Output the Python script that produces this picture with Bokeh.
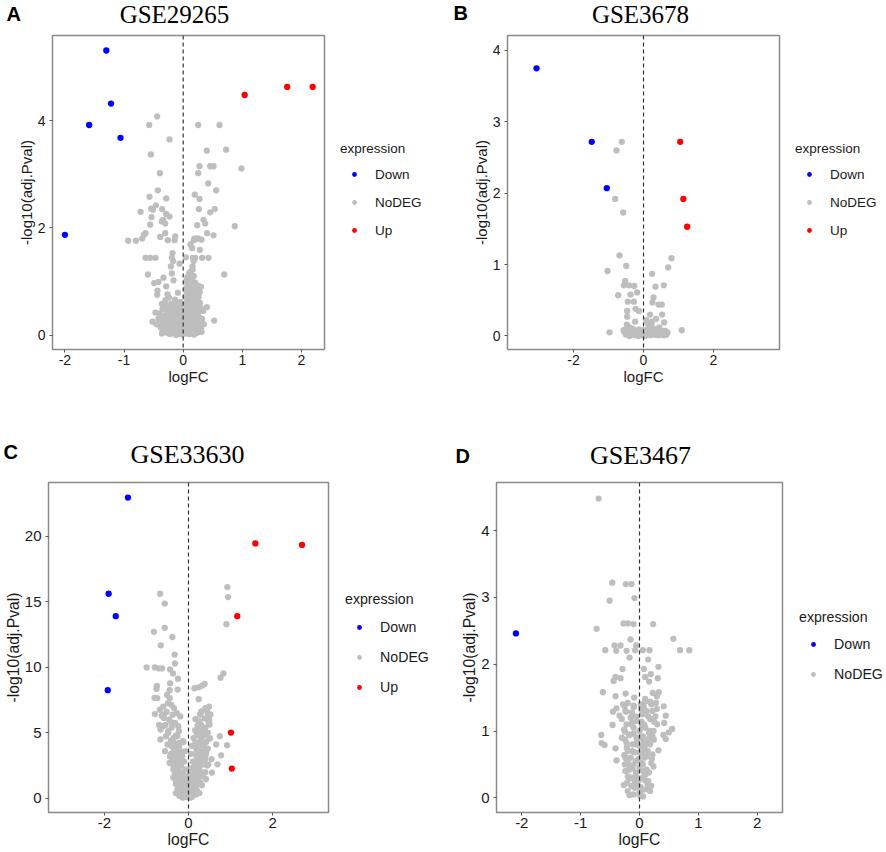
from bokeh.plotting import figure
from bokeh.layouts import row, column
from bokeh.models import Label, Legend, LegendItem, Span, FixedTicker, Range1d
from bokeh.embed import file_html
from bokeh.resources import INLINE

GRAY = "#BEBEBE"
BLUE = "#0000FF"
RED = "#FF0000"

# ---------------- Panel A : GSE29265 ----------------
A_down = [(-1.30, 5.31), (-1.22, 4.32), (-1.59, 3.92), (-1.06, 3.68), (-2.00, 1.87)]
A_up = [(1.04, 4.48), (1.76, 4.63), (2.19, 4.63)]
A_nodeg = [(-0.44, 4.08), (-0.575, 3.92), (0.254, 3.92), (0.614, 3.92), (-0.231, 3.65), (0.727, 3.46),
           (0.40, 3.44), (-0.546, 3.37), (0.276, 3.15), (0.456, 3.15), (0.513, 3.15), (0.986, 3.11),
           (-0.394, 3.02), (0.254, 3.02), (0.423, 2.83), (-0.428, 2.70), (0.558, 2.70), (0.197, 2.62),
           (-0.569, 2.58), (-0.287, 2.55), (0.276, 2.54), (-0.462, 2.42), (-0.541, 2.36), (-0.513, 2.34),
           (0.535, 2.35), (0.265, 2.35), (-0.355, 2.35), (-0.721, 2.30), (0.456, 2.29), (-0.287, 2.26),
           (-0.231, 2.21), (-0.535, 2.20), (-0.338, 2.15), (0.344, 2.15), (-0.361, 2.12), (0.372, 2.08),
           (-0.304, 2.08), (-0.558, 2.06), (0.237, 2.05), (0.873, 2.03), (0.406, 1.90), (-0.304, 1.90),
           (-0.637, 1.90), (-0.665, 1.87), (0.513, 1.86), (-0.389, 1.83), (-0.135, 1.84), (0.192, 1.80),
           (0.225, 1.80), (0.254, 1.80), (-0.693, 1.80), (0.310, 1.78), (-0.930, 1.76), (-0.80, 1.76),
           (-0.259, 1.77), (0.18, 1.77), (-0.146, 1.77), (0.124, 1.69), (0.152, 1.62), (0.282, 1.59),
           (-0.18, 1.53), (-0.637, 1.44), (-0.558, 1.44), (-0.468, 1.44), (-0.192, 1.44), (0.045, 1.45),
           (0.163, 1.44), (0.203, 1.44), (0.321, 1.44), (0.428, 1.44), (-0.169, 1.38), (0.175, 1.38),
           (-0.208, 1.28), (-0.062, 1.33), (0.158, 1.28), (0.693, 1.13), (-0.597, 1.13), (-0.192, 1.15),
           (-0.332, 1.07), (-0.163, 1.02), (-0.49, 0.97), (-0.417, 0.99), (-0.287, 0.91), (-0.434, 0.83),
           (-0.09, 0.79), (-0.265, 0.76), (-0.439, 0.75), (0.40, 0.52), (0.282, 0.60), (0.338, 0.45),
           (-0.468, 0.42), (0.524, 0.27), (-0.518, 0.25)]
A_nodeg_core = [(0.10, 1.15), (0.14, 1.12), (0.18, 1.10), (0.12, 1.05), (0.16, 1.00), (0.20, 0.98), (0.08, 0.95),
                (0.25, 0.92), (0.30, 0.90), (0.12, 0.88), (0.18, 0.85), (0.22, 0.82), (0.06, 0.80), (0.28, 0.80),
                (0.10, 0.75), (0.15, 0.72), (0.20, 0.70), (0.25, 0.68), (0.08, 0.65), (0.12, 0.60), (0.18, 0.58),
                (0.22, 0.55), (0.06, 0.52), (0.30, 0.50), (0.10, 0.48), (0.15, 0.45), (0.20, 0.42), (0.25, 0.40),
                (0.05, 0.38), (0.12, 0.35), (0.18, 0.32), (0.08, 0.30), (0.22, 0.28), (0.14, 0.25), (0.28, 0.22),
                (0.10, 0.20), (0.18, 0.18), (0.05, 0.15), (0.24, 0.14), (0.12, 0.12), (0.20, 0.10), (0.08, 0.08),
                (0.15, 0.05), (0.25, 0.05), (0.04, 0.03), (0.10, 0.02), (0.18, 0.01), (0.30, 0.12), (0.32, 0.30),
                (0.35, 0.20), (0.07, 1.08), (0.14, 0.92), (0.24, 0.60), (0.16, 0.15), (0.27, 0.30),
                (0.05, 1.00), (0.09, 1.02), (0.13, 0.98), (0.17, 0.94), (0.21, 0.90), (0.05, 0.88), (0.09, 0.84),
                (0.13, 0.80), (0.17, 0.76), (0.21, 0.74), (0.26, 0.72), (0.04, 0.70), (0.08, 0.68), (0.12, 0.66),
                (0.16, 0.64), (0.20, 0.62), (0.27, 0.60), (0.04, 0.58), (0.08, 0.56), (0.13, 0.54), (0.17, 0.52),
                (0.21, 0.50), (0.26, 0.48), (0.04, 0.46), (0.08, 0.44), (0.12, 0.40), (0.16, 0.38), (0.20, 0.36),
                (0.24, 0.34), (0.28, 0.32), (0.03, 0.32), (0.07, 0.24), (0.11, 0.28), (0.15, 0.30), (0.19, 0.25),
                (0.23, 0.22), (0.27, 0.16), (0.03, 0.20), (0.07, 0.14), (0.11, 0.16), (0.15, 0.10), (0.19, 0.08),
                (0.22, 0.04), (0.27, 0.09), (0.31, 0.06), (0.06, 0.05), (0.13, 0.03), (0.20, 0.03), (0.09, 1.10),
                (0.12, 1.18), (0.16, 1.22),
                (-0.05, 0.62), (-0.12, 0.60), (-0.20, 0.58), (-0.30, 0.60), (-0.08, 0.55), (-0.15, 0.52),
                (-0.25, 0.50), (-0.35, 0.48), (-0.05, 0.45), (-0.10, 0.42), (-0.18, 0.40), (-0.28, 0.38),
                (-0.40, 0.40), (-0.06, 0.35), (-0.14, 0.32), (-0.22, 0.30), (-0.32, 0.30), (-0.04, 0.25),
                (-0.10, 0.22), (-0.18, 0.20), (-0.26, 0.22), (-0.36, 0.20), (-0.06, 0.15), (-0.12, 0.12),
                (-0.20, 0.10), (-0.30, 0.12), (-0.38, 0.14), (-0.04, 0.08), (-0.10, 0.05), (-0.16, 0.04),
                (-0.24, 0.03), (-0.30, 0.05), (-0.02, 0.01), (-0.12, 0.00), (-0.20, 0.15), (-0.42, 0.30),
                (-0.45, 0.20),
                (-0.02, 0.58), (-0.06, 0.50), (-0.11, 0.55), (-0.16, 0.47), (-0.21, 0.52), (-0.26, 0.44),
                (-0.31, 0.52), (-0.02, 0.40), (-0.08, 0.38), (-0.13, 0.45), (-0.19, 0.35), (-0.24, 0.38),
                (-0.29, 0.30), (-0.34, 0.36), (-0.02, 0.30), (-0.08, 0.28), (-0.13, 0.25), (-0.18, 0.28),
                (-0.23, 0.24), (-0.28, 0.20), (-0.33, 0.25), (-0.02, 0.18), (-0.08, 0.18), (-0.14, 0.18),
                (-0.24, 0.12), (-0.28, 0.10), (-0.34, 0.08), (-0.06, 0.02), (-0.18, 0.07), (-0.22, 0.02),
                (-0.36, 0.03), (-0.30, 0.65), (-0.24, 0.70), (-0.14, 0.66), (-0.36, 0.58)]

# ---------------- Panel B : GSE3678 ----------------
B_down = [(-3.06, 3.75), (-1.48, 2.72), (-1.05, 2.07)]
B_up = [(1.05, 2.72), (1.14, 1.92), (1.25, 1.53)]
B_nodeg = [(-0.619, 2.72), (-0.771, 2.60), (-0.81, 1.92), (-0.581, 1.73), (-0.686, 1.13), (0.80, 1.09),
           (-0.495, 0.98), (0.705, 0.96), (-1.029, 0.91), (0.248, 0.87), (-0.524, 0.77), (-0.562, 0.71),
           (-0.41, 0.71), (-0.267, 0.70), (0.343, 0.69), (0.581, 0.71), (-0.724, 0.57), (-0.371, 0.58),
           (-0.181, 0.61), (0.286, 0.54), (-0.448, 0.48), (-0.276, 0.48), (0.257, 0.47), (0.524, 0.44),
           (0.429, 0.44), (-0.229, 0.38), (-0.467, 0.35), (-0.133, 0.35), (0.19, 0.30), (0.533, 0.30),
           (-0.467, 0.27), (0.362, 0.24), (-0.238, 0.20), (0.114, 0.18), (0.238, 0.20), (-0.476, 0.16),
           (0.59, 0.19), (1.095, 0.08), (-0.971, 0.05), (-0.571, 0.08), (0.686, 0.05)]
B_nodeg_core = [(-0.50, 0.02), (-0.45, 0.05), (-0.40, 0.00), (-0.35, 0.03), (-0.30, 0.06), (-0.25, 0.01),
                (-0.20, 0.04), (-0.15, 0.00), (-0.10, 0.02), (-0.05, 0.05), (0.05, 0.00), (0.10, 0.03),
                (0.15, 0.05), (0.20, 0.01), (0.25, 0.04), (0.30, 0.02), (0.35, 0.06), (0.40, 0.03),
                (0.45, 0.05), (0.50, 0.02), (0.55, 0.06), (0.60, 0.04), (-0.30, 0.10), (0.15, 0.12),
                (0.30, 0.10), (-0.40, 0.12), (0.08, 0.22), (0.22, 0.15), (0.45, 0.12),
                (-0.55, 0.06), (-0.48, 0.09), (-0.42, 0.07), (-0.36, 0.09), (-0.26, 0.08), (-0.18, 0.07),
                (-0.12, 0.09), (-0.07, 0.01), (0.02, 0.08), (0.08, 0.06), (0.13, 0.09), (0.18, 0.07),
                (0.24, 0.08), (0.28, 0.06), (0.33, 0.02), (0.38, 0.08), (0.42, 0.01), (0.48, 0.08),
                (0.53, 0.04), (0.58, 0.01), (0.62, 0.07), (0.66, 0.02)]

# ---------------- Panel C : GSE33630 ----------------
C_down = [(-1.44, 22.95), (-1.90, 15.61), (-1.73, 13.90), (-1.92, 8.25)]
C_up = [(1.59, 19.45), (2.70, 19.34), (1.16, 13.90), (1.01, 5.02), (1.03, 2.27)]
C_nodeg = [(-0.675, 15.61), (-0.565, 14.86), (0.925, 16.12), (0.941, 15.36), (0.902, 13.29), (-0.565, 13.01),
           (-0.824, 12.71), (-0.384, 12.31), (-0.659, 11.68), (-0.329, 10.97), (-0.322, 10.29), (-0.996, 9.99),
           (-0.80, 9.99), (-0.706, 9.91), (-0.627, 9.91), (-0.439, 9.84), (-0.369, 9.53), (0.831, 9.53),
           (0.761, 9.21), (-0.251, 9.13), (0.141, 8.40), (0.243, 8.47), (0.322, 8.60), (0.384, 8.73),
           (-0.753, 8.58), (-0.761, 8.35), (-0.439, 8.78), (-0.259, 8.30), (-0.447, 8.25), (-0.808, 7.67),
           (-0.51, 7.89), (-0.745, 7.64), (-0.447, 7.64), (0.243, 7.57), (-0.486, 7.26), (-0.408, 7.14),
           (0.486, 6.99), (0.40, 6.89), (-0.682, 6.76), (-0.345, 6.89), (0.314, 6.63), (-0.275, 6.51),
           (-0.80, 6.43), (-0.588, 6.38), (-0.376, 6.38), (0.275, 6.38), (-0.196, 6.25), (0.463, 6.38),
           (-0.588, 6.13), (0.165, 6.05), (0.251, 5.88), (0.494, 6.00), (-0.408, 5.80), (-0.322, 5.75),
           (-0.612, 5.50), (0.22, 5.57), (0.502, 5.62), (-0.243, 5.50), (-0.667, 5.25), (0.275, 5.25),
           (-0.486, 5.12), (-0.227, 5.12), (0.196, 4.99), (0.306, 4.99), (-0.267, 4.74), (0.369, 4.79),
           (0.745, 4.74), (-0.533, 4.74), (-0.353, 4.62), (0.51, 4.56), (-0.667, 4.49), (-0.133, 4.36),
           (-0.369, 4.24), (-0.22, 4.24), (0.165, 4.29), (0.29, 4.36), (0.659, 4.11), (0.918, 4.06),
           (-0.322, 3.98), (0.204, 3.98), (0.376, 3.86), (0.776, 3.28), (0.416, 3.40), (0.69, 2.60),
           (0.471, 2.60), (0.557, 1.97), (0.416, 1.46)]
C_nodeg_core = [(-0.40, 4.0), (-0.35, 3.6), (-0.30, 3.2), (-0.38, 3.0), (-0.28, 2.8), (-0.33, 2.5), (-0.25, 2.3),
                (-0.30, 2.0), (-0.22, 1.8), (-0.27, 1.6), (-0.18, 1.4), (-0.24, 1.2), (-0.15, 1.0), (-0.20, 0.8),
                (-0.12, 0.6), (-0.16, 0.4), (-0.08, 0.3), (-0.10, 0.15), (-0.05, 0.5), (-0.42, 3.4), (-0.45, 2.7),
                (-0.36, 2.2), (-0.30, 1.4), (-0.14, 2.0), (-0.20, 2.6), (-0.12, 1.5), (-0.08, 1.0), (-0.25, 3.5),
                (-0.18, 3.0), (-0.32, 4.2), (-0.22, 4.0), (-0.04, 0.1), (-0.06, 0.7), (-0.10, 1.2), (-0.16, 1.7),
                (-0.26, 2.0), (-0.21, 1.1), (-0.35, 2.9), (-0.14, 0.8), (-0.28, 3.8),
                (-0.60, 7.0), (-0.52, 6.6), (-0.46, 6.0), (-0.55, 5.6), (-0.40, 5.4), (-0.48, 5.0), (-0.30, 4.8),
                (-0.42, 4.4), (-0.36, 4.0), (-0.28, 3.8), (-0.20, 3.6), (-0.32, 3.3), (-0.15, 3.2), (-0.24, 2.9),
                (-0.10, 2.8), (-0.38, 2.6), (-0.18, 2.5), (-0.08, 2.2), (-0.32, 1.9), (-0.16, 1.9), (-0.06, 1.7),
                (-0.36, 1.6), (-0.20, 1.3), (-0.04, 1.3), (-0.30, 1.1), (-0.10, 0.9), (-0.26, 0.7), (-0.02, 0.8),
                (-0.18, 0.5), (-0.30, 0.4), (-0.06, 0.2), (-0.22, 0.2), (-0.14, 0.05), (-0.50, 4.1), (-0.56, 3.6),
                (-0.70, 5.6), (-0.64, 6.3), (-0.44, 3.2), (-0.12, 4.3), (-0.08, 3.6),
                (0.05, 0.3), (0.08, 0.6), (0.10, 0.9), (0.12, 1.2), (0.15, 1.5), (0.18, 1.8), (0.20, 2.1),
                (0.22, 2.4), (0.25, 2.7), (0.28, 3.0), (0.30, 3.3), (0.32, 3.6), (0.35, 3.9), (0.38, 4.2),
                (0.12, 2.0), (0.15, 2.6), (0.20, 3.0), (0.25, 3.5), (0.18, 1.0), (0.24, 1.5), (0.30, 2.0),
                (0.36, 2.6), (0.40, 3.0), (0.10, 0.2), (0.06, 1.0), (0.14, 0.5), (0.28, 1.2), (0.22, 4.2),
                (0.30, 4.6), (0.42, 3.5), (0.34, 1.7), (0.08, 1.6), (0.04, 0.05), (0.20, 0.6), (0.16, 2.2),
                (0.26, 2.4), (0.12, 0.8), (0.33, 3.1), (0.19, 3.7),
                (0.30, 6.6), (0.44, 6.7), (0.52, 6.4), (0.38, 6.1), (0.48, 5.8), (0.30, 5.6), (0.40, 5.4),
                (0.16, 5.2), (0.46, 5.0), (0.24, 4.8), (0.12, 4.6), (0.42, 4.3), (0.08, 4.0), (0.26, 4.0),
                (0.46, 3.8), (0.06, 3.4), (0.18, 3.3), (0.40, 3.2), (0.10, 2.8), (0.34, 2.8), (0.45, 2.5),
                (0.04, 2.3), (0.20, 2.2), (0.40, 2.0), (0.03, 1.8), (0.26, 1.7), (0.10, 1.4), (0.22, 1.2),
                (0.02, 1.1), (0.32, 1.0), (0.15, 0.7), (0.26, 0.4), (0.02, 0.5), (0.18, 0.3), (0.08, 0.1),
                (0.55, 3.0), (0.50, 4.6), (0.36, 5.0)]

# ---------------- Panel D : GSE3467 ----------------
D_down = [(-2.10, 2.46)]
D_nodeg = [(-0.695, 4.48), (-0.463, 3.22), (-0.232, 3.20), (-0.136, 3.20), (-0.508, 2.95), (-0.085, 2.99),
           (-0.729, 2.53), (-0.271, 2.61), (-0.198, 2.61), (-0.102, 2.60), (0.232, 2.60), (-0.153, 2.37),
           (0.576, 2.38), (-0.424, 2.28), (-0.322, 2.28), (-0.056, 2.28), (-0.582, 2.21), (-0.395, 2.20),
           (-0.22, 2.20), (-0.073, 2.21), (0.056, 2.21), (0.169, 2.21), (0.689, 2.21), (0.847, 2.21),
           (-0.169, 2.10), (0.147, 2.07), (0.322, 1.96), (-0.288, 1.93), (0.073, 1.93), (-0.407, 1.81),
           (-0.322, 1.79), (0.096, 1.81), (0.192, 1.85), (0.311, 1.79), (-0.441, 1.75), (0.164, 1.74),
           (-0.621, 1.58), (-0.237, 1.56), (0.328, 1.58), (0.226, 1.57), (-0.407, 1.52), (-0.09, 1.50),
           (0.294, 1.52), (0.096, 1.48), (0.181, 1.44), (0.068, 1.38), (0.412, 1.37), (-0.254, 1.37),
           (-0.39, 1.34), (-0.096, 1.36), (0.294, 1.33), (-0.452, 1.29), (-0.226, 1.29), (-0.339, 1.23),
           (0.446, 1.23), (0.147, 1.22), (0.271, 1.22), (-0.458, 1.09), (-0.124, 1.13), (0.034, 1.14),
           (0.249, 1.14), (0.418, 1.12), (0.554, 1.03), (0.497, 0.98), (-0.65, 0.94), (-0.249, 0.99),
           (-0.169, 0.94), (0.164, 0.97), (0.407, 0.94), (0.446, 0.88), (-0.644, 0.82), (-0.593, 0.79),
           (-0.243, 0.87), (-0.045, 0.84), (0.073, 0.84), (0.243, 0.87), (-0.407, 0.74), (-0.215, 0.75),
           (0.322, 0.71), (0.096, 0.72), (-0.39, 0.56), (-0.243, 0.60), (0.209, 0.58), (-0.158, 0.47),
           (0.237, 0.47), (0.056, 0.50), (-0.198, 0.32), (0.102, 0.35), (-0.266, 0.19), (-0.045, 0.17),
           (0.124, 0.13), (-0.169, 0.04), (0.011, 0.03), (-0.079, 0.22)]
D_nodeg_core = [(-0.15, 1.20), (-0.05, 1.15), (0.05, 1.25), (0.12, 1.30), (-0.10, 1.05), (0.00, 1.00),
                (0.10, 1.05), (-0.18, 0.95), (-0.05, 0.90), (0.06, 0.92), (0.15, 0.88), (-0.12, 0.80),
                (0.00, 0.78), (0.10, 0.80), (-0.20, 0.70), (-0.08, 0.68), (0.04, 0.66), (0.14, 0.70),
                (-0.15, 0.60), (-0.02, 0.58), (0.08, 0.60), (-0.10, 0.50), (0.00, 0.45), (0.12, 0.42),
                (-0.18, 0.42), (-0.06, 0.38), (0.05, 0.30), (-0.12, 0.30), (0.15, 0.25), (-0.02, 0.25),
                (-0.08, 0.15), (0.06, 0.12), (-0.20, 0.10), (0.00, 0.08), (0.20, 0.18), (-0.25, 0.50),
                (0.22, 0.65), (0.18, 1.00), (-0.22, 1.10), (0.03, 1.32), (-0.13, 1.28), (0.08, 1.10),
                (-0.28, 1.40), (-0.20, 1.42), (-0.10, 1.38), (0.02, 1.40), (0.10, 1.44), (0.20, 1.40),
                (0.28, 1.42), (-0.24, 1.30), (0.08, 1.32), (0.22, 1.30), (-0.30, 1.18), (-0.06, 1.22),
                (0.18, 1.18), (0.30, 1.10), (-0.26, 1.02), (-0.14, 1.10), (0.04, 1.08), (0.24, 1.00),
                (-0.30, 0.90), (-0.10, 0.96), (0.02, 0.90), (0.22, 0.92), (-0.22, 0.82), (-0.06, 0.80),
                (0.06, 0.76), (0.18, 0.80), (-0.26, 0.64), (-0.12, 0.70), (0.00, 0.68), (0.12, 0.62),
                (0.20, 0.52), (-0.20, 0.55), (-0.06, 0.55), (0.04, 0.52), (-0.24, 0.40), (-0.12, 0.44),
                (0.06, 0.40), (0.16, 0.38), (-0.18, 0.28), (-0.04, 0.30), (0.10, 0.26), (-0.14, 0.18),
                (0.02, 0.16), (0.14, 0.20), (-0.10, 0.05), (0.06, 0.02), (-0.22, 0.22), (0.18, 0.10)]

TITLES = ["GSE29265", "GSE3678", "GSE33630", "GSE3467"]
LETTERS = ["A", "B", "C", "D"]


def xs(pts):
    return [p[0] for p in pts]


def ys(pts):
    return [p[1] for p in pts]


def blank(w, h):
    f = figure(width=w, height=h, output_backend="svg", toolbar_location=None,
               x_range=Range1d(0, 1), y_range=Range1d(0, 1),
               min_border_left=0, min_border_right=0, min_border_top=0, min_border_bottom=0)
    f.axis.visible = False
    f.grid.visible = False
    f.outline_line_color = None
    f.background_fill_color = "white"
    f.border_fill_color = "white"
    return f


def header(w, h, letter, letter_xy, title, title_xy, fs):
    f = blank(w, h)
    f.add_layout(Label(x=letter_xy[0], y=letter_xy[1], x_units="screen", y_units="screen", text=letter,
                       text_align="left", text_baseline="middle", text_font="Liberation Sans",
                       text_font_style="bold", text_font_size=fs["letter"], text_color="black"))
    f.add_layout(Label(x=title_xy[0], y=title_xy[1], x_units="screen", y_units="screen", text=title,
                       text_align="center", text_baseline="middle", text_font="Liberation Serif",
                       text_font_size=fs["title"], text_color="black"))
    return f


def main(w, h, borders, xr, yr, xticks, yticks, series, fs):
    bl, bt, br, bb = borders
    p = figure(width=w, height=h, output_backend="svg", toolbar_location=None,
               x_range=Range1d(*xr), y_range=Range1d(*yr),
               min_border_left=bl, min_border_top=bt, min_border_right=br, min_border_bottom=bb)
    p.background_fill_color = "white"
    p.border_fill_color = "white"
    p.outline_line_color = "#8a8a8a"
    p.outline_line_width = 1.5
    p.xgrid.visible = False
    p.ygrid.visible = False
    for ax_, ticks in ((p.xaxis, xticks), (p.yaxis, yticks)):
        ax_.ticker = FixedTicker(ticks=ticks)
        ax_.major_label_overrides = {t: str(t) for t in ticks}
        ax_.axis_line_color = None
        ax_.major_tick_line_color = "#555555"
        ax_.major_tick_out = 3
        ax_.major_tick_in = 0
        ax_.minor_tick_line_color = None
        ax_.major_label_text_font = "Liberation Sans"
        ax_.major_label_text_font_size = fs["tick"]
        ax_.major_label_text_color = "#1a1a1a"
        ax_.axis_label_text_font = "Liberation Sans"
        ax_.axis_label_text_font_style = "normal"
        ax_.axis_label_text_font_size = fs["axis"]
        ax_.axis_label_text_color = "#1a1a1a"
        ax_.axis_label_standoff = 0
    p.xaxis.major_label_standoff = 2
    p.yaxis.major_label_standoff = 4
    p.xaxis.axis_label = "logFC"
    p.yaxis.axis_label = "-log10(adj.Pval)"
    for name, groups, color in series:
        for pts in groups:
            p.scatter(xs(pts), ys(pts), size=6.3, color=color, line_color=None)
    p.add_layout(Span(location=0, dimension="height", line_dash="4 3",
                      line_color="#333333", line_width=1.2))
    return p


def legend_fig(w, h, series, loc, item_h, title_standoff, fs):
    f = blank(w, h)
    items = []
    for name, groups, color in series:
        # legend key glyph: a point placed outside the blank frame, only its style is shown
        r = f.scatter([-5], [-5], size=4.6, color=color, line_color=None)
        items.append(LegendItem(label=name, renderers=[r]))
    leg = Legend(items=items, location=loc, title="expression",
                 padding=0, spacing=0, margin=0,
                 glyph_width=28, glyph_height=12, label_height=item_h, label_width=10,
                 label_standoff=7, title_standoff=title_standoff,
                 border_line_color=None, background_fill_alpha=0,
                 title_text_font="Liberation Sans", title_text_font_style="normal",
                 title_text_font_size=fs["legend"], title_text_color="#1a1a1a",
                 label_text_font="Liberation Sans", label_text_font_size=fs["legend"],
                 label_text_color="#1a1a1a")
    f.add_layout(leg)
    return f


fs_top = {"tick": "14px", "axis": "15px", "legend": "13.5px", "title": "25px", "letter": "20px"}
fs_bot = {"tick": "15px", "axis": "15.7px", "legend": "14.2px", "title": "26px", "letter": "20px"}

sA = [("Down", [A_down], BLUE), ("NoDEG", [A_nodeg, A_nodeg_core], GRAY), ("Up", [A_up], RED)]
sB = [("Down", [B_down], BLUE), ("NoDEG", [B_nodeg, B_nodeg_core], GRAY), ("Up", [B_up], RED)]
sC = [("Down", [C_down], BLUE), ("NoDEG", [C_nodeg, C_nodeg_core], GRAY), ("Up", [C_up], RED)]
sD = [("Down", [D_down], BLUE), ("NoDEG", [D_nodeg, D_nodeg_core], GRAY)]

hA = header(443, 34, LETTERS[0], (6, 21), TITLES[0], (174, 20), fs_top)
hB = header(443, 34, LETTERS[1], (10, 22), TITLES[1], (197, 20), fs_top)
mA = main(326, 386, (52, 1, 2, 70), (-2.21, 2.39), (-0.27, 5.59), [-2, -1, 0, 1, 2], [0, 2, 4], sA, fs_top)
lA = legend_fig(117, 386, sA, (14, 105), 28, 4, fs_top)
mB = main(338, 386, (64, 1, 2, 71), (-3.89, 3.89), (-0.19, 4.21), [-2, 0, 2], [0, 1, 2, 3, 4], sB, fs_top)
lB = legend_fig(105, 386, sB, (14, 105), 28, 4, fs_top)

hC = header(443, 58, LETTERS[2], (3, 27), TITLES[2], (187, 24), fs_bot)
hD = header(443, 58, LETTERS[3], (12, 23), TITLES[3], (197, 23), fs_bot)
mC = main(330, 374, (48, 1, 2, 40), (-3.33, 3.33), (-1.08, 24.1), [-2, 0, 2], [0, 5, 10, 15, 20], sC, fs_bot)
lC = legend_fig(113, 374, sC, (15, 110), 30, 5, fs_bot)
mD = main(341, 374, (53, 4, 2, 39), (-2.43, 2.43), (-0.22, 4.72), [-2, -1, 0, 1, 2], [0, 1, 2, 3, 4], sD, fs_bot)
lD = legend_fig(102, 374, sD, (15, 123), 30, 4, fs_bot)

layout = column(row(hA, hB), row(mA, lA, mB, lB), row(hC, hD), row(mC, lC, mD, lD))
open("out.html", "w").write(file_html(layout, INLINE))
